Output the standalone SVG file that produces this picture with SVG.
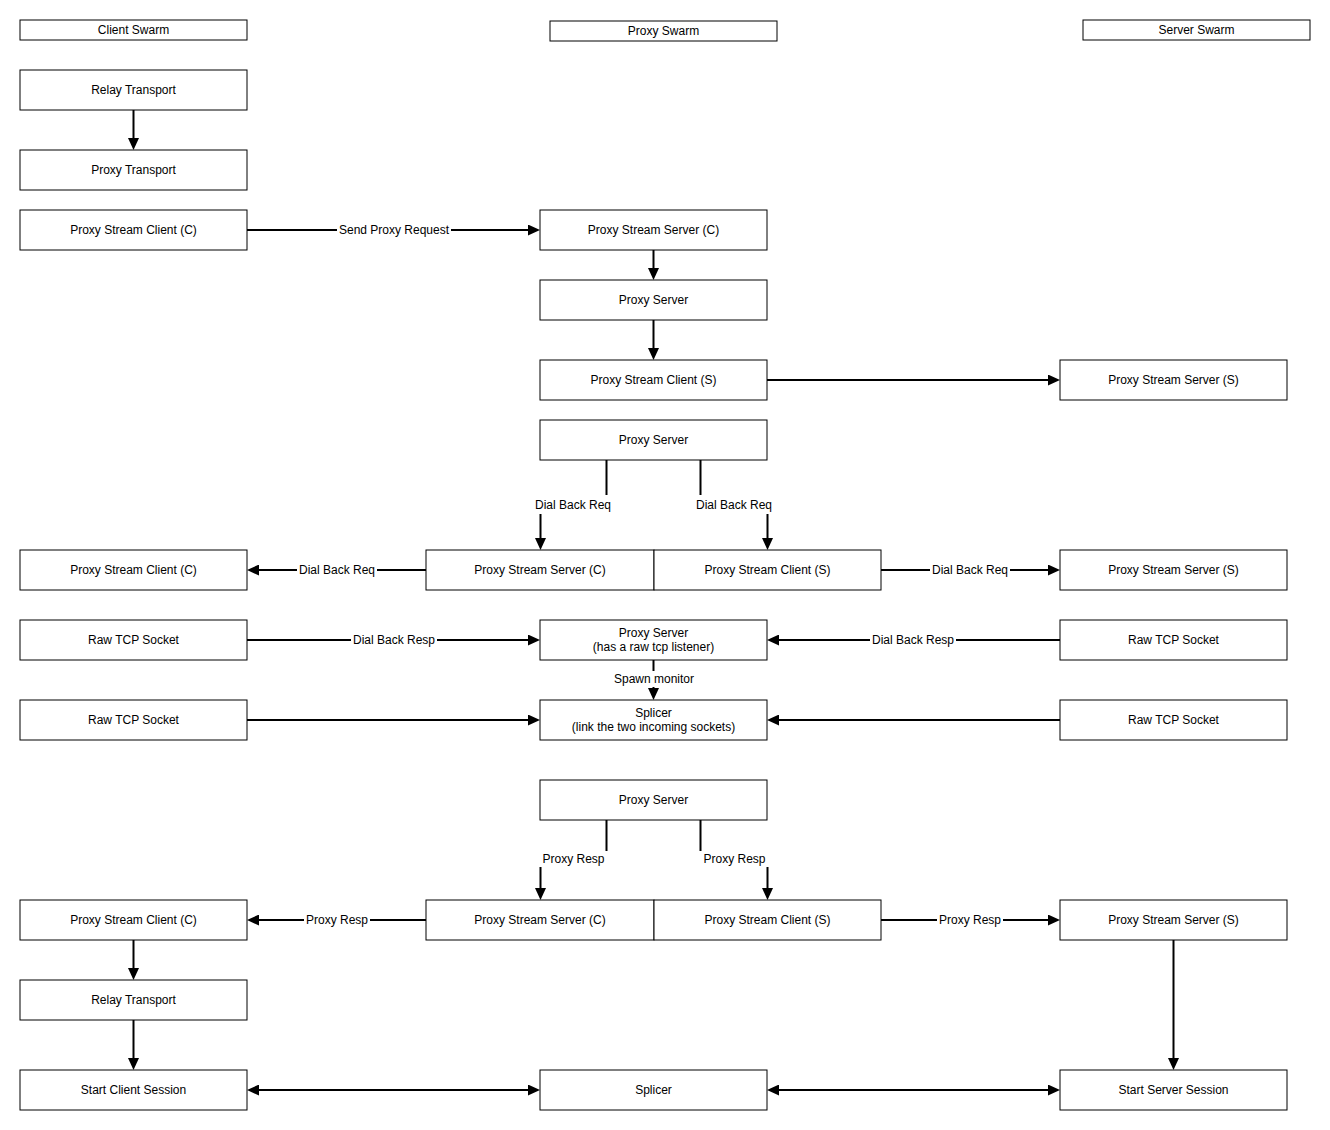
<svg xmlns="http://www.w3.org/2000/svg" width="1330" height="1130" viewBox="0 0 1330 1130">
<style>
.box{fill:#fff;stroke:#000;stroke-width:1}
.t{font-family:"Liberation Sans",Arial,sans-serif;font-size:12px;fill:#000;text-anchor:middle;dominant-baseline:central}
.e{fill:none;stroke:#000;stroke-width:2}
.lb{fill:#fff;stroke:none}
</style>
<defs>
<marker id="ah" viewBox="0 0 12 11" refX="8" refY="5.5" markerWidth="12" markerHeight="11" markerUnits="userSpaceOnUse" orient="auto-start-reverse">
<path d="M0,0 L12,5.5 L0,11 z" fill="#000"/>
</marker>
</defs>
<rect width="1330" height="1130" fill="#fff"/>

<g id="headers">
<g id="h-client"><rect class="box" x="20" y="20" width="227" height="20"/><text class="t" x="133.5" y="30">Client Swarm</text></g>
<g id="h-proxy"><rect class="box" x="550" y="21" width="227" height="20"/><text class="t" x="663.5" y="31">Proxy Swarm</text></g>
<g id="h-server"><rect class="box" x="1083" y="20" width="227" height="20"/><text class="t" x="1196.5" y="30">Server Swarm</text></g>
</g>

<g id="connectors">
<path class="e" d="M133.5,110 V146" marker-end="url(#ah)"/>
<path class="e" d="M247,230 H536" marker-end="url(#ah)"/>
<path class="e" d="M653.5,250 V276" marker-end="url(#ah)"/>
<path class="e" d="M653.5,320 V356" marker-end="url(#ah)"/>
<path class="e" d="M767,380 H1056" marker-end="url(#ah)"/>
<path class="e" d="M606.5,460 V505 H540.5 V546" marker-end="url(#ah)"/>
<path class="e" d="M700.5,460 V505 H767.5 V546" marker-end="url(#ah)"/>
<path class="e" d="M426,570 H251" marker-end="url(#ah)"/>
<path class="e" d="M881,570 H1056" marker-end="url(#ah)"/>
<path class="e" d="M247,640 H536" marker-end="url(#ah)"/>
<path class="e" d="M1060,640 H771" marker-end="url(#ah)"/>
<path class="e" d="M653.5,660 V696" marker-end="url(#ah)"/>
<path class="e" d="M247,720 H536" marker-end="url(#ah)"/>
<path class="e" d="M1060,720 H771" marker-end="url(#ah)"/>
<path class="e" d="M606.5,820 V859 H540.5 V896" marker-end="url(#ah)"/>
<path class="e" d="M700.5,820 V859 H767.5 V896" marker-end="url(#ah)"/>
<path class="e" d="M426,920 H251" marker-end="url(#ah)"/>
<path class="e" d="M881,920 H1056" marker-end="url(#ah)"/>
<path class="e" d="M133.5,940 V976" marker-end="url(#ah)"/>
<path class="e" d="M133.5,1020 V1066" marker-end="url(#ah)"/>
<path class="e" d="M1173.5,940 V1066" marker-end="url(#ah)"/>
<path class="e" d="M251,1090 H536" marker-start="url(#ah)" marker-end="url(#ah)"/>
<path class="e" d="M771,1090 H1056" marker-start="url(#ah)" marker-end="url(#ah)"/>

<rect class="lb" x="337" y="222" width="114" height="16"/><text class="t" x="394" y="230">Send Proxy Request</text>
<rect class="lb" x="533" y="495" width="80" height="19"/><text class="t" x="573" y="505">Dial Back Req</text>
<rect class="lb" x="694" y="495" width="80" height="19"/><text class="t" x="734" y="505">Dial Back Req</text>
<rect class="lb" x="297" y="562" width="80" height="16"/><text class="t" x="337" y="570">Dial Back Req</text>
<rect class="lb" x="930" y="562" width="80" height="16"/><text class="t" x="970" y="570">Dial Back Req</text>
<rect class="lb" x="351" y="632" width="86" height="16"/><text class="t" x="394" y="640">Dial Back Resp</text>
<rect class="lb" x="870" y="632" width="86" height="16"/><text class="t" x="913" y="640">Dial Back Resp</text>
<rect class="lb" x="612" y="671" width="84" height="16"/><text class="t" x="654" y="679">Spawn monitor</text>
<rect class="lb" x="539" y="851" width="69" height="16"/><text class="t" x="573.5" y="859">Proxy Resp</text>
<rect class="lb" x="699" y="851" width="70" height="16"/><text class="t" x="734.5" y="859">Proxy Resp</text>
<rect class="lb" x="304" y="912" width="66" height="16"/><text class="t" x="337" y="920">Proxy Resp</text>
<rect class="lb" x="937" y="912" width="66" height="16"/><text class="t" x="970" y="920">Proxy Resp</text>
</g>

<g id="n-relay1"><rect class="box" x="20" y="70" width="227" height="40"/><text class="t" x="133.5" y="90">Relay Transport</text></g>
<g id="n-proxytransport"><rect class="box" x="20" y="150" width="227" height="40"/><text class="t" x="133.5" y="170">Proxy Transport</text></g>
<g id="n-psc-c1"><rect class="box" x="20" y="210" width="227" height="40"/><text class="t" x="133.5" y="230">Proxy Stream Client (C)</text></g>
<g id="n-pss-c1"><rect class="box" x="540" y="210" width="227" height="40"/><text class="t" x="653.5" y="230">Proxy Stream Server (C)</text></g>
<g id="n-ps1"><rect class="box" x="540" y="280" width="227" height="40"/><text class="t" x="653.5" y="300">Proxy Server</text></g>
<g id="n-psc-s1"><rect class="box" x="540" y="360" width="227" height="40"/><text class="t" x="653.5" y="380">Proxy Stream Client (S)</text></g>
<g id="n-pss-s1"><rect class="box" x="1060" y="360" width="227" height="40"/><text class="t" x="1173.5" y="380">Proxy Stream Server (S)</text></g>
<g id="n-ps2"><rect class="box" x="540" y="420" width="227" height="40"/><text class="t" x="653.5" y="440">Proxy Server</text></g>

<g id="n-psc-c2"><rect class="box" x="20" y="550" width="227" height="40"/><text class="t" x="133.5" y="570">Proxy Stream Client (C)</text></g>
<g id="n-pss-c2"><rect class="box" x="426" y="550" width="228" height="40"/><text class="t" x="540" y="570">Proxy Stream Server (C)</text></g>
<g id="n-psc-s2"><rect class="box" x="654" y="550" width="227" height="40"/><text class="t" x="767.5" y="570">Proxy Stream Client (S)</text></g>
<g id="n-pss-s2"><rect class="box" x="1060" y="550" width="227" height="40"/><text class="t" x="1173.5" y="570">Proxy Stream Server (S)</text></g>

<g id="n-raw1"><rect class="box" x="20" y="620" width="227" height="40"/><text class="t" x="133.5" y="640">Raw TCP Socket</text></g>
<g id="n-ps3"><rect class="box" x="540" y="620" width="227" height="40"/><text class="t" x="653.5" y="633">Proxy Server</text><text class="t" x="653.5" y="647">(has a raw tcp listener)</text></g>
<g id="n-raw2"><rect class="box" x="1060" y="620" width="227" height="40"/><text class="t" x="1173.5" y="640">Raw TCP Socket</text></g>

<g id="n-raw3"><rect class="box" x="20" y="700" width="227" height="40"/><text class="t" x="133.5" y="720">Raw TCP Socket</text></g>
<g id="n-splicer1"><rect class="box" x="540" y="700" width="227" height="40"/><text class="t" x="653.5" y="713">Splicer</text><text class="t" x="653.5" y="727">(link the two incoming sockets)</text></g>
<g id="n-raw4"><rect class="box" x="1060" y="700" width="227" height="40"/><text class="t" x="1173.5" y="720">Raw TCP Socket</text></g>

<g id="n-ps4"><rect class="box" x="540" y="780" width="227" height="40"/><text class="t" x="653.5" y="800">Proxy Server</text></g>

<g id="n-psc-c3"><rect class="box" x="20" y="900" width="227" height="40"/><text class="t" x="133.5" y="920">Proxy Stream Client (C)</text></g>
<g id="n-pss-c3"><rect class="box" x="426" y="900" width="228" height="40"/><text class="t" x="540" y="920">Proxy Stream Server (C)</text></g>
<g id="n-psc-s3"><rect class="box" x="654" y="900" width="227" height="40"/><text class="t" x="767.5" y="920">Proxy Stream Client (S)</text></g>
<g id="n-pss-s3"><rect class="box" x="1060" y="900" width="227" height="40"/><text class="t" x="1173.5" y="920">Proxy Stream Server (S)</text></g>

<g id="n-relay2"><rect class="box" x="20" y="980" width="227" height="40"/><text class="t" x="133.5" y="1000">Relay Transport</text></g>

<g id="n-startclient"><rect class="box" x="20" y="1070" width="227" height="40"/><text class="t" x="133.5" y="1090">Start Client Session</text></g>
<g id="n-splicer2"><rect class="box" x="540" y="1070" width="227" height="40"/><text class="t" x="653.5" y="1090">Splicer</text></g>
<g id="n-startserver"><rect class="box" x="1060" y="1070" width="227" height="40"/><text class="t" x="1173.5" y="1090">Start Server Session</text></g>
</svg>
